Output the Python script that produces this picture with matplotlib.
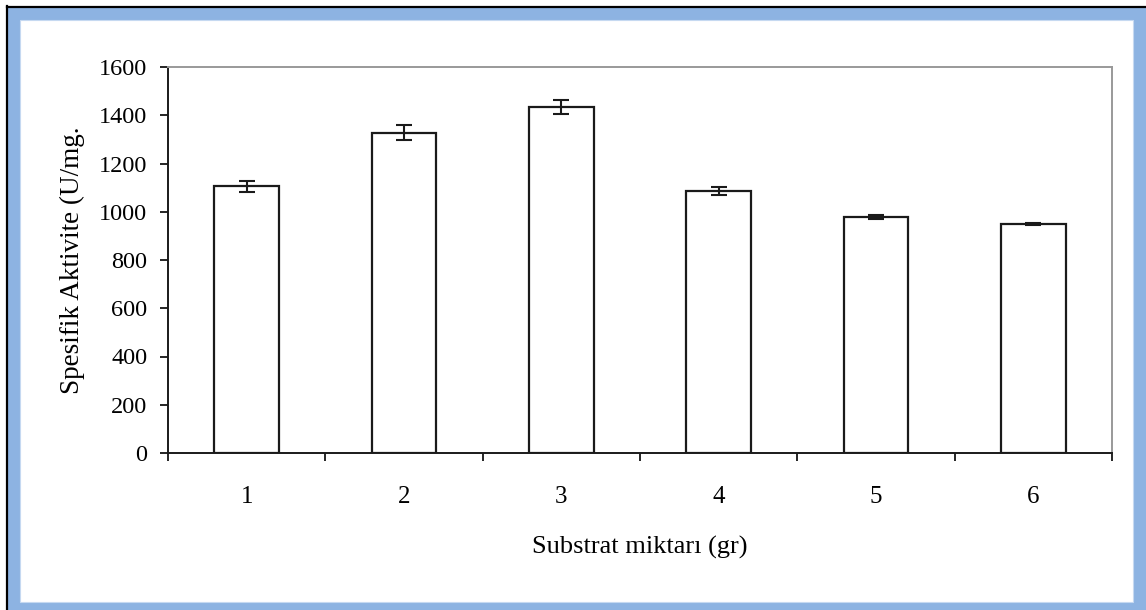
import matplotlib
matplotlib.use("Agg")
import matplotlib.pyplot as plt
from matplotlib.patches import Rectangle
from matplotlib.lines import Line2D

# substrat miktarı ve spesifik aktivite değerleri
kategoriler = ["1", "2", "3", "4", "5", "6"]
aktivite = [1105, 1328, 1434, 1087, 978, 949]
hata = [22, 31, 29, 17, 10, 4]

plt.rcParams['font.family'] = ['Liberation Serif', 'DejaVu Serif']

fig = plt.figure(figsize=(11.46, 6.10), dpi=100)
fig.patch.set_facecolor('white')

# çerçeve: mavi kenarlık ve sol/üst siyah çizgi
W, H = 1146, 610
mavi = '#8db3e2'
fig.patches.append(Rectangle((8 / W, 0), 1 - 8 / W, 1 - 8 / H, transform=fig.transFigure,
                             facecolor=mavi, edgecolor='none', zorder=0))
fig.patches.append(Rectangle((20 / W, 8 / H), (1133 - 20) / W, (590 - 8) / H,
                             transform=fig.transFigure, facecolor='white',
                             edgecolor='#c6d9f1', linewidth=0.8, zorder=0.5))
fig.lines.append(Line2D([7 / W, 7 / W], [0, 1 - 6 / H], transform=fig.transFigure,
                        color='black', linewidth=1.6))
fig.lines.append(Line2D([7 / W, 1], [1 - 7 / H, 1 - 7 / H], transform=fig.transFigure,
                        color='black', linewidth=1.6))

ax = fig.add_axes([168 / W, (H - 453) / H, (1112 - 168) / W, (453 - 67) / H])
ax.set_zorder(5)
x = list(range(len(kategoriler)))
ax.bar(x, aktivite, width=0.41, color='white', edgecolor='#1a1a1a', linewidth=1.6, zorder=2)
ax.errorbar(x, aktivite, yerr=hata, fmt='none', ecolor='#1a1a1a', elinewidth=1.5,
            capsize=5.5, capthick=1.5, zorder=3)

ax.set_xlim(-0.5, 5.5)
ax.set_ylim(0, 1600)
ax.set_yticks(range(0, 1601, 200))
ax.tick_params(axis='y', direction='out', length=6, width=1.2, labelsize=17.5, pad=9)

# kategori sınırlarında işaretler, etiketler ortada
ax.set_xticks([i - 0.5 for i in range(len(kategoriler) + 1)])
ax.set_xticklabels([])
ax.set_xticks(x, minor=True)
ax.set_xticklabels(kategoriler, minor=True, fontsize=18)
ax.tick_params(axis='x', which='major', direction='out', length=6, width=1.2)
ax.tick_params(axis='x', which='minor', length=0, pad=24)

for s in ['left', 'bottom']:
    ax.spines[s].set_color('#1a1a1a')
    ax.spines[s].set_linewidth(1.4)
for s in ['right', 'top']:
    ax.spines[s].set_color('#999999')
    ax.spines[s].set_linewidth(1.4)

ax.set_xlabel('Substrat miktarı (gr)', fontsize=19, labelpad=20)
ax.set_ylabel('Spesifik Aktivite (U/mg.', fontsize=19.5, labelpad=10)

fig.savefig('out.png', dpi=100, facecolor=fig.get_facecolor())
